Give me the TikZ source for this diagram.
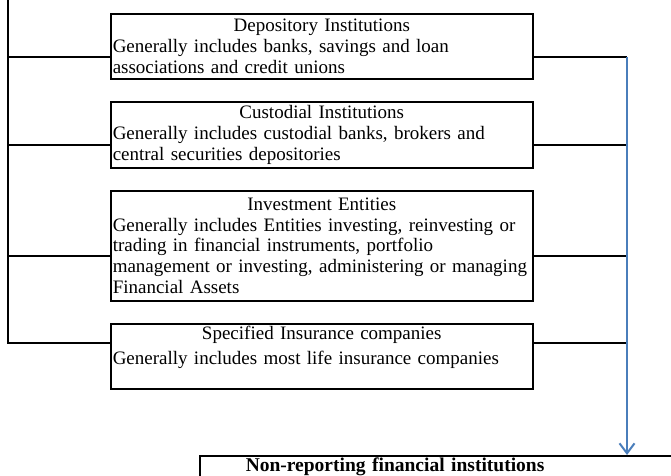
\documentclass[tikz,border=0pt]{standalone}
\usepackage{fontspec}
\setmainfont{Liberation Serif}
\usetikzlibrary{arrows.meta}
\definecolor{arrowblue}{RGB}{74,126,187}

\begin{document}
\begin{tikzpicture}[x=1pt,y=-1pt,
                    inst/.style={draw,line width=1.5pt,anchor=north west,
                                 text width=418pt,inner xsep=2pt,inner ysep=2pt,
                                 align=left,font=\fontsize{19}{20.7}\selectfont},
                    link/.style={line width=1.3pt},
                    feed/.style={draw=arrowblue,line width=2pt,
                                 -{Straight Barb[length=10pt,width=15pt]}}]
    \useasboundingbox (0,0) rectangle (671,475);
    \clip (0,0) rectangle (671,475);
    \node[inst,minimum height=65pt] (dep) at (110,13)
        {\makebox[\linewidth]{Depository Institutions}\\
         Generally includes banks, savings and loan\\
         associations and credit unions};
    \node[inst,minimum height=66pt] (cust) at (110,101)
        {\makebox[\linewidth]{Custodial Institutions}\\
         Generally includes custodial banks, brokers and\\
         central securities depositories};
    \node[inst,minimum height=110pt] (inv) at (110,190)
        {\makebox[\linewidth]{Investment Entities}\\
         Generally includes Entities investing, reinvesting or\\
         trading in financial instruments, portfolio\\
         management or investing, administering or managing\\
         Financial Assets};
    \node[inst,minimum height=65pt] (ins) at (110,323)
        {\makebox[\linewidth]{Specified Insurance companies}\\[4.3pt]
         Generally includes most life insurance companies\rule[-23pt]{0pt}{23pt}};
    \node[draw,line width=1.5pt,anchor=north west,text width=480pt,
          inner xsep=2pt,inner ysep=2pt,align=left,
          font=\fontsize{19.5}{21}\selectfont\bfseries] (nonrep) at (199,455)
        {\hspace*{44pt}Non-reporting financial institutions};
    \coordinate (top) at (8,-5);
    \coordinate (l1) at (8,57);
    \coordinate (l2) at (8,145);
    \coordinate (l3) at (8,256);
    \coordinate (l4) at (8,343);
    \coordinate (r1) at (627,57);
    \coordinate (r2) at (627,145);
    \coordinate (r3) at (627,256);
    \coordinate (r4) at (627,343);
    \draw[link] (top) -- (l4) -- (l4 -| ins.west);
    \draw[link] (l1) -- (l1 -| dep.west);
    \draw[link] (l2) -- (l2 -| cust.west);
    \draw[link] (l3) -- (l3 -| inv.west);
    \draw[link] (r1 -| dep.east) -- (r1);
    \draw[link] (r2 -| cust.east) -- (r2);
    \draw[link] (r3 -| inv.east) -- (r3);
    \draw[link] (r4 -| ins.east) -- (r4);
    \draw[feed] (r1) -- (r1 |- nonrep.north);
\end{tikzpicture}
\end{document}
